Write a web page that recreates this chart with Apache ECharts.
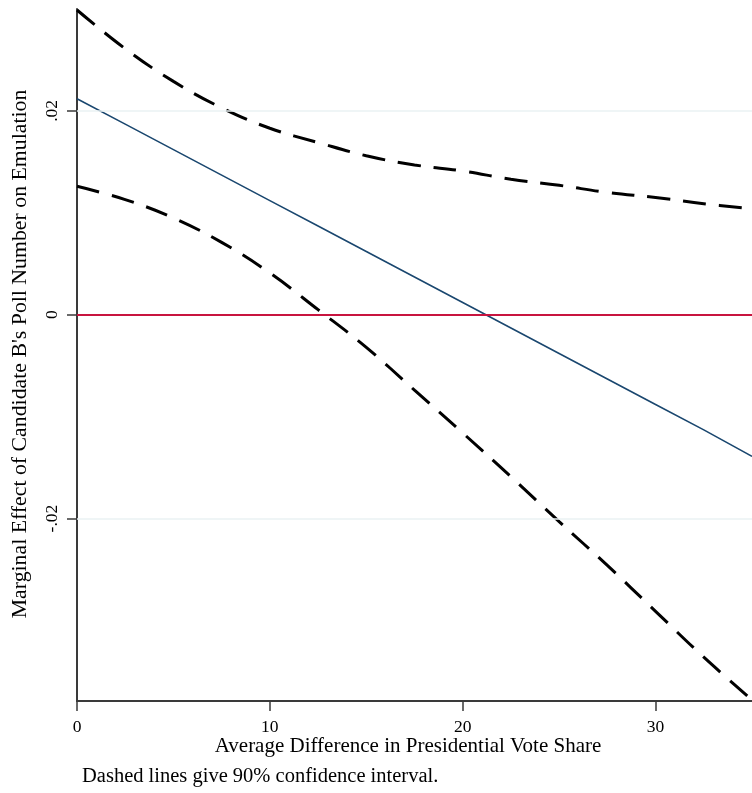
<!DOCTYPE html>
<html>
<head>
<meta charset="utf-8">
<script src="https://cdn.jsdelivr.net/npm/echarts@6/dist/echarts.min.js"></script>
<style>
html,body{margin:0;padding:0;background:#fff;}
#chart{width:752px;height:793px;}
</style>
</head>
<body>
<div id="chart"></div>
<script>
// ---- data ----
const xValues  = [0, 2.5, 5, 7.5, 10, 12.5, 15, 17.5, 20, 22.5, 25, 27.5, 30, 32.5, 35];
const fitted   = [0.0212, 0.0187, 0.0162, 0.0137, 0.0112, 0.0087, 0.0062, 0.0037, 0.0012, -0.0013, -0.0038, -0.0063, -0.0088, -0.0113, -0.0139];
const upperCI  = [0.0299, 0.0261, 0.0229, 0.0203, 0.0183, 0.0169, 0.0156, 0.0147, 0.0141, 0.0133, 0.0127, 0.0120, 0.0115, 0.0109, 0.0104];
const lowerCI  = [0.0126, 0.0113, 0.0095, 0.0071, 0.0041, 0.0005, -0.0032, -0.0074, -0.0116, -0.0159, -0.0203, -0.0246, -0.0291, -0.0336, -0.0378];
const xTickValues = [0, 10, 20, 30];
const yTickValues = [-0.02, 0, 0.02];
const yTickLabels = ['-.02', '0', '.02'];
const gridValues  = [-0.02, 0.02];
const refValue    = 0;
const xTitle = 'Average Difference in Presidential Vote Share';
const yTitle = "Marginal Effect of Candidate B's Poll Number on Emulation";
const note   = 'Dashed lines give 90% confidence interval.';

const FONT = "'Liberation Serif', 'Times New Roman', serif";
const pairs = arr => xValues.map((x, i) => [x, arr[i]]);

const chart = echarts.init(document.getElementById('chart'), null, {renderer: 'canvas'});
chart.setOption({
  animation: false,
  backgroundColor: '#ffffff',
  grid: {left: 77, right: 0, top: 9, bottom: 92, containLabel: false},
  xAxis: {
    type: 'value', min: 0, max: 35,
    axisLine: {show: true, onZero: false, lineStyle: {color: '#3a3a3a', width: 2}},
    axisTick: {show: true, length: 10, lineStyle: {color: '#3a3a3a', width: 1.5}, customValues: xTickValues},
    axisLabel: {show: true, margin: 17, fontFamily: FONT, fontSize: 17.5, color: '#000', customValues: xTickValues},
    splitLine: {show: false}
  },
  yAxis: {
    type: 'value', min: -0.0379, max: 0.0300,
    axisLine: {show: true, onZero: false, lineStyle: {color: '#3a3a3a', width: 2}},
    axisTick: {show: true, length: 10, lineStyle: {color: '#3a3a3a', width: 1.5}, customValues: yTickValues},
    axisLabel: {
      show: true, rotate: 90, margin: 16, fontFamily: FONT, fontSize: 17.5, color: '#000',
      customValues: yTickValues,
      formatter: v => { const i = yTickValues.findIndex(t => Math.abs(t - v) < 1e-9); return i >= 0 ? yTickLabels[i] : ''; }
    },
    splitLine: {show: false}
  },
  series: [
    {
      type: 'line', data: [], silent: true, z: 1,
      markLine: {
        silent: true, symbol: 'none', label: {show: false}, animation: false,
        data: [
          {yAxis: gridValues[0], lineStyle: {color: '#eaf2f3', width: 1.5, type: 'solid'}},
          {yAxis: gridValues[1], lineStyle: {color: '#eaf2f3', width: 1.5, type: 'solid'}},
          {yAxis: refValue, lineStyle: {color: '#c8143f', width: 2.2, type: 'solid'}}
        ]
      }
    },
    {
      type: 'line', data: pairs(fitted), showSymbol: false, z: 3,
      lineStyle: {color: '#1a476f', width: 1.6}
    },
    {
      type: 'line', data: pairs(upperCI), showSymbol: false, smooth: 0.4, z: 4,
      lineStyle: {color: '#000', width: 3, type: [23, 13]}
    },
    {
      type: 'line', data: pairs(lowerCI), showSymbol: false, smooth: 0.4, z: 4,
      lineStyle: {color: '#000', width: 3, type: [23, 13]}
    }
  ],
  graphic: [
    {type: 'text', x: 20, y: 354, rotation: Math.PI / 2, silent: true,
     style: {text: yTitle, fontFamily: FONT, fontSize: 21.8, fill: '#000', align: 'center', verticalAlign: 'middle'}},
    {type: 'text', x: 408, y: 746, silent: true,
     style: {text: xTitle, fontFamily: FONT, fontSize: 21, fill: '#000', align: 'center', verticalAlign: 'middle'}},
    {type: 'text', x: 82, y: 777, silent: true,
     style: {text: note, fontFamily: FONT, fontSize: 20.5, fill: '#000', align: 'left', verticalAlign: 'middle'}}
  ]
});
</script>
</body>
</html>
